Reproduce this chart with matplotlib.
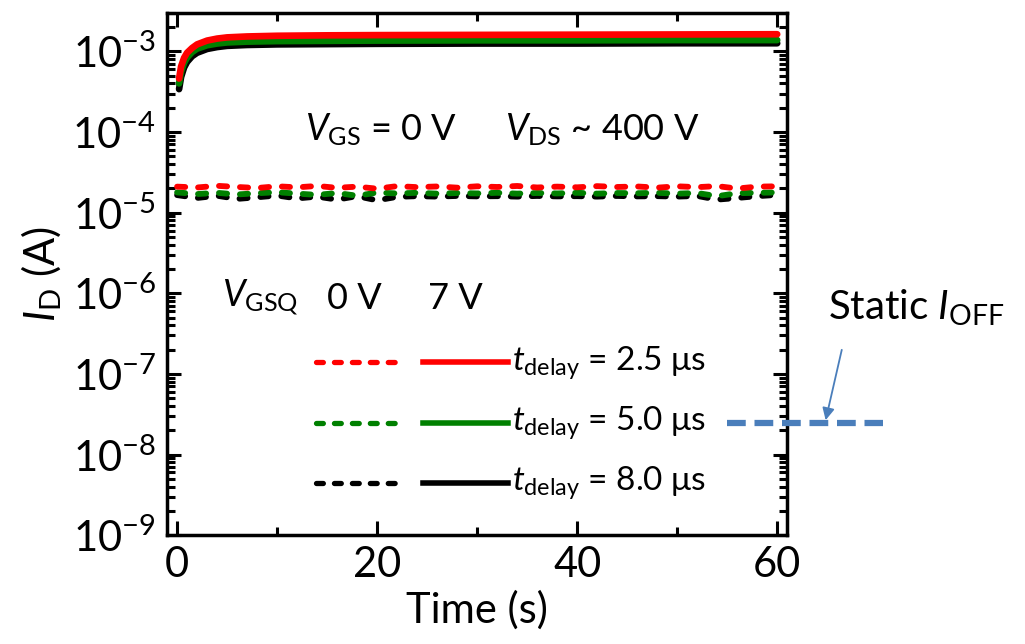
import matplotlib
matplotlib.use("Agg")
import matplotlib.pyplot as plt
from matplotlib.ticker import LogLocator, MultipleLocator

plt.rcParams.update({
    "font.family": ["Lato", "DejaVu Sans"],
    "mathtext.fontset": "custom",
    "mathtext.rm": "Lato",
    "mathtext.it": "Lato:italic",
    "mathtext.bf": "Lato:bold",
    "font.size": 28,
})

# ── data ───────────────────────────────────────────────────────────────────
# V_GSQ = 7 V (solid)
t_on = [0.2, 0.4, 0.7, 1.0, 1.5, 2.0, 3.0, 4.0, 5.0, 7.0, 10, 15, 20, 30, 40, 50, 60]
on_25 = [4.6e-4, 6.5e-4, 8.3e-4, 9.6e-4, 1.10e-3, 1.22e-3, 1.36e-3, 1.44e-3, 1.49e-3,
         1.53e-3, 1.56e-3, 1.58e-3, 1.59e-3, 1.60e-3, 1.61e-3, 1.62e-3, 1.63e-3]
on_50 = [4.0e-4, 5.6e-4, 7.2e-4, 8.4e-4, 9.8e-4, 1.08e-3, 1.19e-3, 1.25e-3, 1.29e-3,
         1.32e-3, 1.34e-3, 1.35e-3, 1.36e-3, 1.37e-3, 1.37e-3, 1.38e-3, 1.38e-3]
on_80 = [3.4e-4, 4.8e-4, 6.3e-4, 7.4e-4, 8.7e-4, 9.6e-4, 1.07e-3, 1.13e-3, 1.17e-3,
         1.20e-3, 1.22e-3, 1.23e-3, 1.24e-3, 1.25e-3, 1.25e-3, 1.26e-3, 1.26e-3]

# V_GSQ = 0 V (dashed), in units of 1e-5 A
t_off = [0, 2, 4, 6, 8, 10, 12, 14, 16, 18, 20, 22, 24, 26, 28, 30,
         32, 34, 36, 38, 40, 42, 44, 46, 48, 50, 52, 54, 56, 58, 60]
off_25 = [2.10, 2.05, 2.15, 2.08, 2.02, 2.12, 2.06, 2.14, 2.03, 2.10, 1.98, 2.13, 2.07,
          2.11, 2.04, 2.12, 2.08, 2.14, 2.05, 2.10, 2.06, 2.13, 2.08, 2.11, 2.04, 2.12,
          2.07, 2.13, 1.99, 2.10, 2.12]
off_50 = [1.78, 1.70, 1.76, 1.68, 1.74, 1.79, 1.72, 1.66, 1.75, 1.62, 1.77, 1.73, 1.76,
          1.72, 1.75, 1.73, 1.76, 1.72, 1.75, 1.73, 1.76, 1.72, 1.75, 1.74, 1.76, 1.72,
          1.75, 1.60, 1.74, 1.76, 1.78]
off_80 = [1.65, 1.52, 1.62, 1.48, 1.55, 1.63, 1.50, 1.58, 1.45, 1.60, 1.42, 1.57, 1.60,
          1.58, 1.61, 1.59, 1.60, 1.58, 1.61, 1.59, 1.60, 1.58, 1.61, 1.59, 1.60, 1.58,
          1.61, 1.45, 1.52, 1.60, 1.66]

delays = ["2.5", "5.0", "8.0"]
colors = ["#FF0000", "#008000", "#000000"]

DASH = dict(ls=(0, (1.4, 2.2)), dash_capstyle="round", lw=4.2)

# ── figure ─────────────────────────────────────────────────────────────────
fig = plt.figure(figsize=(10.25, 6.44), dpi=100)
ax = fig.add_axes([0.163, 0.169, 0.605, 0.811])

for on, c in zip([on_80, on_50, on_25], colors[::-1]):
    ax.plot(t_on, on, "-", color=c, lw=4.8, solid_capstyle="round")
for off, c in zip([off_80, off_50, off_25], colors[::-1]):
    ax.plot(t_off, [v * 1e-5 for v in off], color=c, **DASH)

ax.set_yscale("log")
ax.set_xlim(-1, 61)
ax.set_ylim(1e-9, 3e-3)
ax.xaxis.set_major_locator(MultipleLocator(20))
ax.xaxis.set_minor_locator(MultipleLocator(10))
ax.yaxis.set_major_locator(LogLocator(base=10, numticks=20))
ax.yaxis.set_minor_locator(LogLocator(base=10, subs=range(2, 10), numticks=20))

ax.tick_params(which="both", direction="in", top=True, right=True, width=2.2)
ax.tick_params(which="major", length=10, pad=8, labelsize=30)
ax.tick_params(which="minor", length=6)
for s in ax.spines.values():
    s.set_linewidth(2.5)

ax.set_xlabel("Time (s)", fontsize=30, labelpad=4)
ax.set_ylabel(r"$I_{\mathrm{D}}$ (A)", fontsize=30, labelpad=6)

# conditions
ax.text(0.223, 0.776, r"$V_{\mathrm{GS}}$ = 0 V", transform=ax.transAxes,
        fontsize=26, va="center")
ax.text(0.545, 0.776, r"$V_{\mathrm{DS}}$ ~ 400 V", transform=ax.transAxes,
        fontsize=26, va="center")

# hand-made legend
ax.text(0.089, 0.454, r"$V_{\mathrm{GSQ}}$", transform=ax.transAxes, fontsize=26, va="center")
ax.text(0.258, 0.454, "0 V", transform=ax.transAxes, fontsize=26, va="center")
ax.text(0.421, 0.454, "7 V", transform=ax.transAxes, fontsize=26, va="center")
for yr, c, d in zip([0.331, 0.215, 0.100], colors, delays):
    ax.plot([0.240, 0.381], [yr, yr], color=c, transform=ax.transAxes,
            ls=(0, (1.3, 2.1)), dash_capstyle="round", lw=3.8)
    ax.plot([0.413, 0.550], [yr, yr], color=c, transform=ax.transAxes, lw=4)
    ax.text(0.556, yr, r"$t_{\mathrm{delay}}$" + f" = {d} \u03bcs", transform=ax.transAxes,
            fontsize=24, va="center")

# static off-state current marker
blue = "#4A7EBB"
ax.plot([0.903, 1.155], [0.215, 0.215], color=blue, lw=4.5, ls=(0, (3, 1.4)),
        transform=ax.transAxes, clip_on=False, zorder=5)
ax.annotate("", xy=(1.061, 0.215), xytext=(1.089, 0.360), xycoords="axes fraction",
            arrowprops=dict(arrowstyle="-|>", color=blue, lw=1.3, mutation_scale=18),
            annotation_clip=False)
ax.text(1.066, 0.435, r"Static $I_{\mathrm{OFF}}$", transform=ax.transAxes,
        fontsize=29, va="center")

fig.savefig("out.png", dpi=100)
